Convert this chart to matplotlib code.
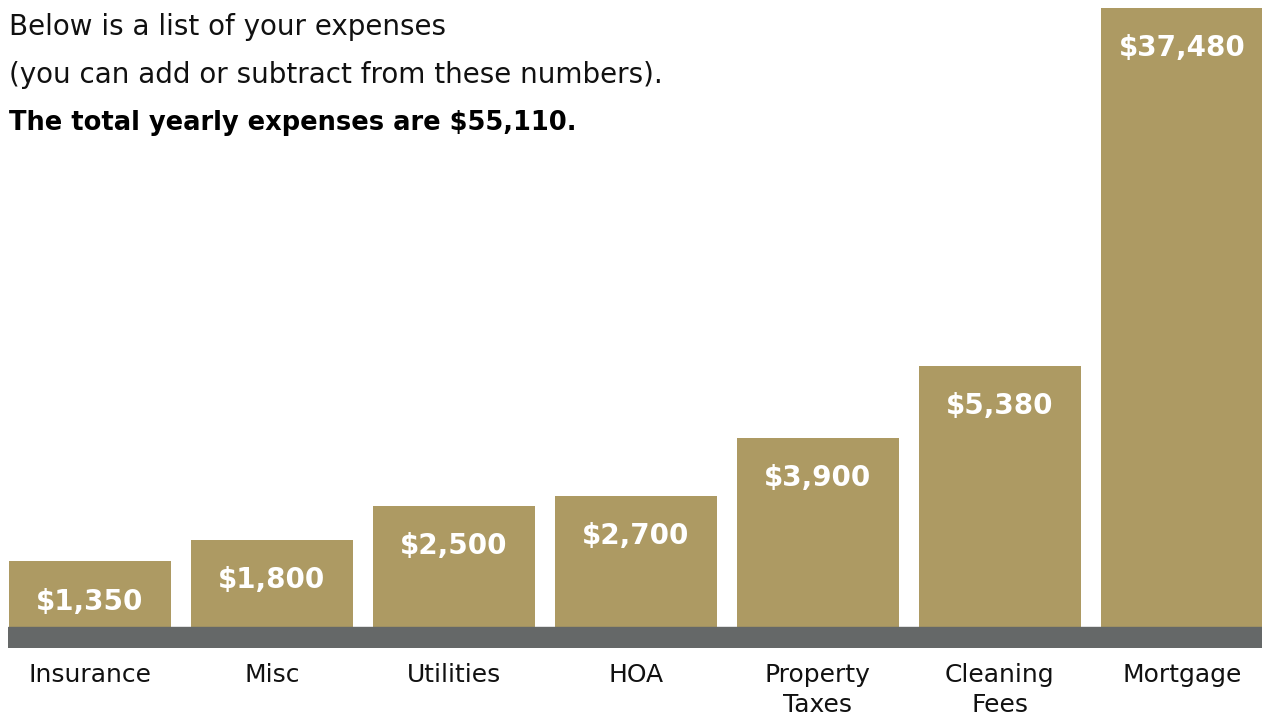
import numpy as np
from matplotlib import pyplot as plt

categories = ['Insurance', 'Misc', 'Utilities', 'HOA', 'Property\nTaxes', 'Cleaning\nFees', 'Mortgage']
values = [1350, 1800, 2500, 2700, 3900, 5380, 37480]
labels = ['$1,350', '$1,800', '$2,500', '$2,700', '$3,900', '$5,380', '$37,480']

gold = '#ad9a63'
grey = '#656868'

plt.rcParams['font.family'] = 'DejaVu Sans'

fig = plt.figure(figsize=(12.62, 7.16), dpi=100)
ax = fig.add_axes([8/1262, 68/716, 1 - 8/1262, 640/716])

# mortgage runs off the top, the axis is cut like in the original
ymax = 12755
ybase = -433
x = np.arange(len(categories))
ax.bar(x, values, width=0.89, color=gold, zorder=2)
ax.axhspan(ybase, 0, color=grey, zorder=3)
ax.set_xlim(-0.45, 6.44)
ax.set_ylim(ybase, ymax)
ax.axis('off')

for xi, v, lab, cat in zip(x, values, labels, categories):
    top = min(v, ymax)
    ax.annotate(lab, (xi, top), xytext=(0, -29), textcoords='offset points',
                ha='center', va='center', color='white', fontsize=20, fontweight='bold')
    ax.annotate(cat, (xi, ybase), xytext=(0, -11), textcoords='offset points',
                ha='center', va='top', color='#111111', fontsize=18, linespacing=1.3)

fig.text(9/1262, 1 - 27/716, 'Below is a list of your expenses', ha='left', va='center',
         fontsize=20, color='#111111')
fig.text(9/1262, 1 - 75/716, '(you can add or subtract from these numbers).', ha='left', va='center',
         fontsize=20, color='#111111')
fig.text(9/1262, 1 - 123/716, 'The total yearly expenses are $55,110.', ha='left', va='center',
         fontsize=18.5, fontweight='bold', color='#000000')

fig.savefig('out.png', dpi=100)
